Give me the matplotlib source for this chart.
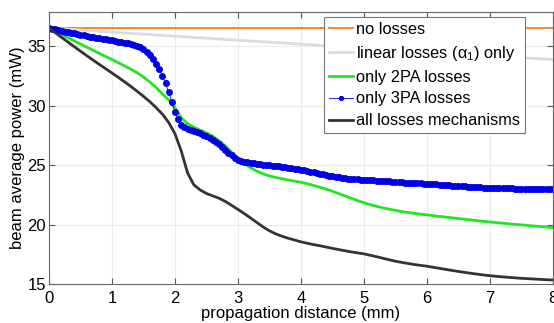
import matplotlib
matplotlib.use("Agg")
import matplotlib.pyplot as plt
import numpy as np

#---------------#
#     Data      #
#---------------#

# propagation distance (mm) and beam power (mW)
z_lin = [0, 1, 2, 3, 4, 5, 6, 7, 8]
p_none = [36.55, 36.55, 36.55, 36.55, 36.55, 36.55, 36.55, 36.55, 36.55]
p_lin = [36.55, 36.20, 35.86, 35.52, 35.19, 34.86, 34.53, 34.21, 33.89]

z_coarse = np.round(np.arange(0, 8.01, 0.1), 2)
p_2pa = [36.55, 36.28, 36.01, 35.74, 35.47, 35.20, 34.93, 34.67, 34.41, 34.15,
         33.90, 33.63, 33.36, 33.08, 32.78, 32.42, 32.00, 31.55, 31.00, 30.50,
         29.85, 29.00, 28.50, 28.20, 27.95, 27.72, 27.45, 27.05, 26.62, 26.08,
         25.50, 25.10, 24.78, 24.50, 24.27, 24.10, 23.97, 23.86, 23.76, 23.66,
         23.56, 23.44, 23.30, 23.15, 22.99, 22.81, 22.61, 22.41, 22.21, 22.02,
         21.84, 21.68, 21.54, 21.41, 21.30, 21.20, 21.10, 21.02, 20.95, 20.88,
         20.82, 20.75, 20.69, 20.63, 20.57, 20.51, 20.45, 20.39, 20.33, 20.27,
         20.22, 20.17, 20.12, 20.07, 20.02, 19.98, 19.93, 19.88, 19.84, 19.80,
         19.75]
p_all = [36.55, 36.15, 35.76, 35.37, 34.98, 34.60, 34.22, 33.85, 33.48, 33.12,
         32.76, 32.40, 32.02, 31.63, 31.22, 30.80, 30.35, 29.85, 29.30, 28.60,
         27.65, 26.20, 24.35, 23.35, 22.92, 22.62, 22.42, 22.22, 21.95, 21.62,
         21.28, 20.93, 20.56, 20.18, 19.80, 19.48, 19.22, 19.02, 18.85, 18.70,
         18.55, 18.43, 18.32, 18.22, 18.11, 18.00, 17.90, 17.80, 17.70, 17.62,
         17.54, 17.42, 17.30, 17.17, 17.04, 16.92, 16.82, 16.73, 16.64, 16.57,
         16.50, 16.41, 16.32, 16.23, 16.14, 16.06, 15.98, 15.90, 15.83, 15.76,
         15.70, 15.65, 15.60, 15.56, 15.52, 15.48, 15.45, 15.42, 15.39, 15.36,
         15.34]

z_fine = np.round(np.arange(0, 8.001, 0.05), 2)
p_3pa = [36.55, 36.49, 36.43, 36.37, 36.31, 36.25, 36.20, 36.14, 36.09, 36.03,
         35.98, 35.93, 35.88, 35.83, 35.78, 35.73, 35.69, 35.64, 35.59, 35.55,
         35.50, 35.46, 35.41, 35.36, 35.31, 35.26, 35.20, 35.13, 35.04, 34.93,
         34.77, 34.55, 34.27, 33.95, 33.55, 33.10, 32.55, 31.90, 31.15, 30.30,
         29.50, 28.85, 28.42, 28.20, 28.08, 27.98, 27.88, 27.78, 27.68, 27.56,
         27.44, 27.31, 27.16, 26.98, 26.78, 26.55, 26.30, 26.05, 25.82, 25.63,
         25.48, 25.38, 25.30, 25.25, 25.20, 25.15, 25.11, 25.07, 25.04, 25.01,
         24.98, 24.95, 24.93, 24.90, 24.87, 24.84, 24.80, 24.76, 24.71, 24.67,
         24.63, 24.58, 24.52, 24.47, 24.42, 24.36, 24.30, 24.24, 24.18, 24.12,
         24.07, 24.02, 23.98, 23.94, 23.91, 23.88, 23.85, 23.83, 23.81, 23.79,
         23.78, 23.76, 23.74, 23.72, 23.71, 23.69, 23.67, 23.65, 23.63, 23.61,
         23.59, 23.57, 23.56, 23.54, 23.53, 23.52, 23.50, 23.49, 23.47, 23.46,
         23.45, 23.43, 23.41, 23.39, 23.37, 23.35, 23.33, 23.31, 23.29, 23.27,
         23.25, 23.23, 23.21, 23.20, 23.18, 23.16, 23.15, 23.14, 23.12, 23.11,
         23.10, 23.09, 23.08, 23.07, 23.06, 23.05, 23.05, 23.04, 23.03, 23.02,
         23.02, 23.01, 23.00, 23.00, 22.99, 22.99, 22.98, 22.98, 22.97, 22.97,
         22.96]

#---------------#
#     Plot      #
#---------------#

plt.rcParams['font.family'] = ['Liberation Sans', 'DejaVu Sans']
plt.rcParams['mathtext.fontset'] = 'custom'
plt.rcParams['mathtext.rm'] = 'Liberation Sans'

fig = plt.figure(figsize=(5.54, 3.23), dpi=100)
ax = fig.add_axes([0.0884, 0.1207, 0.9096, 0.8423])

ax.plot(z_lin, p_none, color='#f5801e', lw=1.3, label='no losses')
ax.plot(z_lin, p_lin, color='#dcdcdc', lw=2.0, label=r'linear losses ($\mathregular{\alpha_1}$) only')
ax.plot(z_coarse, p_2pa, color='#1fe61f', lw=2.0, label='only 2PA losses')
ax.plot(z_fine, p_3pa, color='#0000e6', lw=0.6, marker='o', ms=4.0,
        mec='#0000e6', mfc='#0000e6', label='only 3PA losses')
ax.plot(z_coarse, p_all, color='#333333', lw=2.0, label='all losses mechanisms')

ax.set_xlim(0, 8)
ax.set_ylim(15, 37.9)
ax.set_xticks(range(0, 9))
ax.set_yticks([15, 20, 25, 30, 35])
ax.grid(True, color='#ebebeb', lw=0.8)
ax.set_axisbelow(True)
ax.tick_params(direction='in', top=True, right=True, labelsize=12,
               length=4, color='#555555')
ax.tick_params(axis='x', pad=5)
ax.tick_params(axis='y', pad=2)
for s in ax.spines.values():
    s.set_color('#666666')

ax.set_xlabel('propagation distance (mm)', fontsize=12, labelpad=0)
ax.set_ylabel('beam average power (mW)', fontsize=12, labelpad=2)

leg = ax.legend(loc='upper right', bbox_to_anchor=(0.944, 0.982), fontsize=11.8,
                numpoints=1, markerscale=0.7, handlelength=1.5, handletextpad=0.15,
                borderaxespad=0, borderpad=0.3, labelspacing=0.42,
                fancybox=False, framealpha=1, edgecolor='#777777')
leg.get_frame().set_linewidth(0.8)

fig.savefig('out.png', dpi=100)
plt.close(fig)
